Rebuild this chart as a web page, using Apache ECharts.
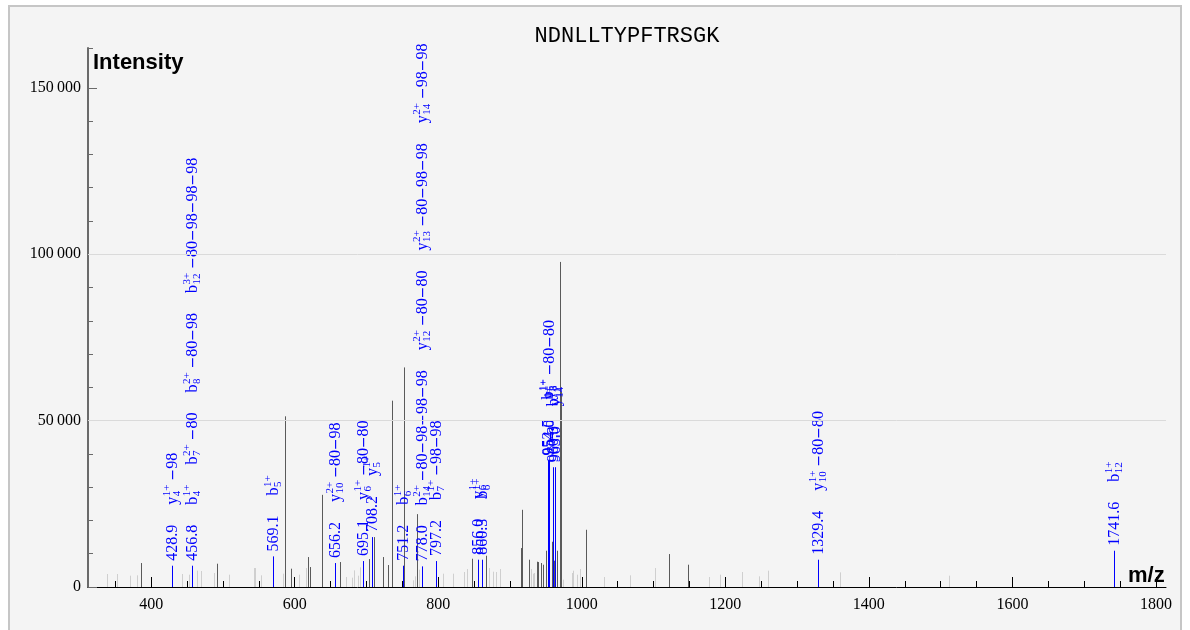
<!DOCTYPE html>
<html><head><meta charset="utf-8">
<script src="https://cdn.jsdelivr.net/npm/echarts@6/dist/echarts.min.js"></script>
<style>
html,body{margin:0;padding:0;background:#fff;overflow:hidden;}
#frame{position:absolute;left:8px;top:5px;width:1170px;height:640px;border:2px solid #c6c6c6;background:#f4f4f4;}
#chart{position:absolute;left:0;top:0;width:1190px;height:630px;}
</style></head><body><div id="frame"></div><div id="chart"></div>
<script>
// ---------------- DATA ----------------
const peptide = 'NDNLLTYPFTRSGK';
const xTickValues = [400, 600, 800, 1000, 1200, 1400, 1600, 1800];
const yTickValues = [0, 50000, 100000, 150000];

// unannotated low peaks (light grey)
const lightMz  = [338.3, 352.2, 370.8, 380.0, 443.6, 453.0, 464.0, 470.0, 488.0, 508.0, 543.0, 545.0, 552.8, 584.0, 606.6, 616.0, 671.0, 680.0, 683.0, 688.8, 691.6, 764.5, 767.7, 773.8, 807.0, 821.0, 836.5, 839.7, 871.0, 876.8, 880.0, 886.0, 928.9, 931.6, 934.0, 974.0, 986.0, 988.0, 992.9, 998.0, 1031.0, 1067.6, 1102.5, 1177.7, 1192.5, 1222.8, 1247.0, 1259.8, 1359.6, 1512.0];
const lightInt = [3900, 3900, 3400, 3500, 3900, 3700, 4900, 4800, 4200, 3700, 5700, 5700, 3500, 4000, 3700, 5700, 3000, 2800, 5000, 3400, 5900, 2000, 3200, 5200, 4000, 4000, 4500, 5400, 5700, 4600, 4500, 5400, 5400, 4000, 4200, 2200, 4200, 4900, 3700, 5400, 3000, 3500, 5700, 3000, 3700, 4500, 3200, 4900, 4400, 3400];

// unannotated peaks (dark grey)
const darkMz  = [386.0, 492.0, 587.0, 594.6, 618.5, 622.0, 638.6, 662.8, 703.6, 710.2, 722.7, 730.0, 736.0, 752.9, 770.0, 846.7, 866.0, 915.8, 917.2, 927.0, 937.7, 939.5, 943.6, 946.4, 949.7, 959.0, 961.8, 966.0, 969.6, 970.9, 1005.5, 1121.0, 1148.0];
const darkInt = [7200, 7000, 51300, 5500, 9000, 6000, 27700, 7500, 8400, 15000, 9000, 6600, 56000, 66000, 21900, 8500, 9400, 11700, 23200, 8200, 7600, 7500, 7200, 6700, 10900, 13600, 7900, 10900, 97700, 58700, 17200, 9900, 6700];

// annotated peaks (blue)
const annotMz  = [428.9, 456.8, 569.1, 656.2, 695.1, 708.2, 751.2, 778.0, 797.2, 856.0, 860.3, 952.5, 954.0, 960.3, 963.0, 1329.4, 1741.6];
const annotInt = [6400, 6400, 9200, 7200, 7800, 15000, 6400, 6200, 7800, 8200, 8200, 38000, 38000, 36000, 36000, 8200, 10900];
const annotIons = [
  ['y_{4}^{1+} −98'],
  ['b_{4}^{1+}', 'b_{7}^{2+} −80', 'b_{8}^{2+} −80−98', 'b_{12}^{3+} −80−98−98−98'],
  ['b_{5}^{1+}'],
  ['y_{10}^{2+} −80−98'],
  ['y_{6}^{1+} −80−80'],
  ['y_{5}^{1+}'],
  ['b_{6}^{1+}'],
  ['b_{14}^{2+} −80−98−98−98', 'y_{12}^{2+} −80−80', 'y_{13}^{2+} −80−98−98', 'y_{14}^{2+} −98−98'],
  ['b_{7}^{1+} −98−98'],
  ['y_{6}^{1+}'],
  ['b_{6}^{1+}'],
  ['b_{8}^{1+}'],
  ['y_{8}^{1+} −80−80'],
  ['b_{11}^{1+}'],
  ['y_{14}^{1+}'],
  ['y_{10}^{1+} −80−80'],
  ['b_{12}^{1+}']
];

// ---------------- STYLE ----------------
const SERIF = '"Liberation Serif", "Times New Roman", serif';
const MINUS_FONT = '14px "DejaVu Sans", sans-serif';
const BLUE = '#0000ff';
const MAIN = 16, SCRIPT = 11;
const PEAK_GAP = 5, LABEL_GAP = 20;
const xMin = 312, xMax = 1814, yMax = 162000;

const mctx = document.createElement('canvas').getContext('2d');
function twf(t, font) { mctx.font = font; return mctx.measureText(t).width; }
function tw(t, size) { return twf(t, size + 'px ' + SERIF); }
function txtf(t, x, y, font) {
  return {type: 'text', style: {text: t, x: x, y: y, font: font, fill: BLUE, textAlign: 'left', textVerticalAlign: 'middle'}};
}
function txt(t, x, y, size) { return txtf(t, x, y, size + 'px ' + SERIF); }
// run of main-size text; minus signs drawn wider
function run(s, pos, els) {
  const parts = s.split(/(−)/);
  let p = pos;
  parts.forEach(part => {
    if (!part) return;
    const f = part === '−' ? MINUS_FONT : MAIN + 'px ' + SERIF;
    els.push(txtf(part, p, part === '−' ? 0.5 : 0, f));
    p += twf(part, f);
  });
  return p;
}
function ionElems(s, pos) {
  const m = s.match(/^(\w)_\{([^}]*)\}\^\{([^}]*)\}(.*)$/);
  const els = [];
  if (!m) { return {els, end: run(s, pos, els)}; }
  const base = m[1], sub = m[2], sup = m[3], rest = m[4];
  els.push(txt(base, pos, 0, MAIN));
  let p = pos + tw(base, MAIN) + 0.5;
  els.push(txt(sup, p, -5.5, SCRIPT));
  els.push(txt(sub, p, 5, SCRIPT));
  p += Math.max(tw(sup, SCRIPT), tw(sub, SCRIPT));
  if (rest) p = run(rest, p, els);
  return {els, end: p};
}

function peakSeries(name, mz, inten, color, z, extra) {
  return Object.assign({
    type: 'custom', name: name, coordinateSystem: 'cartesian2d', z: z, silent: true,
    data: mz.map((m, i) => [m, inten[i]]),
    encode: {x: 0, y: 1},
    renderItem: function (params, api) {
      const p0 = api.coord([api.value(0), 0]);
      const p1 = api.coord([api.value(0), api.value(1)]);
      const x = Math.round(p0[0]) + 0.5;
      return {type: 'line', shape: {x1: x, y1: p0[1], x2: x, y2: p1[1]}, style: {stroke: color, lineWidth: 1}};
    }
  }, extra || {});
}

const minorX = [];
for (let v = 350; v <= 1800; v += 50) if (v % 200 !== 0) minorX.push(v);
const minorY = [];
for (let v = 10000; v <= 140000; v += 10000) if (v % 50000 !== 0) minorY.push(v);
minorY.push(yMax);

const fmtY = v => String(v).replace(/\B(?=(\d{3})+(?!\d))/g, '\u2009');
const fmtX = v => String(v);

const chart = echarts.init(document.getElementById('chart'), null, {renderer: 'canvas'});
chart.setOption({
  backgroundColor: 'transparent',
  animation: false,
  grid: {left: 88, right: 24, top: 48, bottom: 43},
  xAxis: [{
    type: 'value', min: xMin, max: xMax,
    axisLine: {show: true, lineStyle: {color: '#000', width: 1}},
    axisTick: {show: true, inside: true, length: 10, customValues: xTickValues, lineStyle: {color: '#000'}},
    axisLabel: {customValues: xTickValues, formatter: fmtX, fontFamily: SERIF, fontSize: 16, color: '#000', margin: 10},
    splitLine: {show: false}
  }, {
    type: 'value', min: xMin, max: xMax, position: 'bottom',
    axisLine: {show: false},
    axisTick: {show: true, inside: true, length: 6, customValues: minorX, lineStyle: {color: '#000'}},
    axisLabel: {show: false}, splitLine: {show: false}
  }],
  yAxis: [{
    type: 'value', min: 0, max: yMax,
    axisLine: {show: true, lineStyle: {color: '#6a6a6a', width: 2}},
    axisTick: {show: true, inside: true, length: 9, customValues: yTickValues, lineStyle: {color: '#6a6a6a'}},
    axisLabel: {customValues: yTickValues, formatter: fmtY, fontFamily: SERIF, fontSize: 16, color: '#000', margin: 7},
    splitLine: {show: false}
  }, {
    type: 'value', min: 0, max: yMax, position: 'left',
    axisLine: {show: false},
    axisTick: {show: true, inside: true, length: 5, customValues: minorY, lineStyle: {color: '#6a6a6a'}},
    axisLabel: {show: false}, splitLine: {show: false}
  }],
  graphic: [
    {type: 'text', x: 627, y: 36, style: {text: peptide, font: '22px "Liberation Mono", monospace', fill: '#000', textAlign: 'center', textVerticalAlign: 'middle'}},
    {type: 'text', left: 93, top: 52, style: {text: 'Intensity', font: 'bold 22px "Liberation Sans", Arial, sans-serif', fill: '#000'}},
    {type: 'text', left: 1128, top: 565, style: {text: 'm/z', font: 'bold 22px "Liberation Sans", Arial, sans-serif', fill: '#000'}}
  ],
  series: [
    peakSeries('light', lightMz, lightInt, '#cfcfcf', 2, {
      markLine: {silent: true, symbol: 'none', label: {show: false}, animation: false,
        lineStyle: {color: '#dadada', type: 'solid', width: 1},
        data: [{yAxis: 50000}, {yAxis: 100000}]}
    }),
    peakSeries('dark', darkMz, darkInt, '#5a5a5a', 3),
    {
      type: 'custom', name: 'annotated', coordinateSystem: 'cartesian2d', z: 4, silent: true,
      data: annotMz.map((m, i) => [m, annotInt[i]]),
      encode: {x: 0, y: 1},
      renderItem: function (params, api) {
        const i = params.dataIndex;
        const p0 = api.coord([api.value(0), 0]);
        const p1 = api.coord([api.value(0), api.value(1)]);
        const x = Math.round(p0[0]) + 0.5;
        const lab = [];
        const mzText = annotMz[i].toFixed(1);
        lab.push(txt(mzText, 0, 0, MAIN));
        let pos = tw(mzText, MAIN) + LABEL_GAP;
        annotIons[i].forEach(s => {
          const r = ionElems(s, pos);
          r.els.forEach(e => lab.push(e));
          pos = r.end + LABEL_GAP;
        });
        return {type: 'group', children: [
          {type: 'line', shape: {x1: x, y1: p0[1], x2: x, y2: p1[1]}, style: {stroke: BLUE, lineWidth: 1}},
          {type: 'group', x: x, y: p1[1] - PEAK_GAP, rotation: Math.PI / 2, children: lab}
        ]};
      }
    }
  ]
});
</script></body></html>
